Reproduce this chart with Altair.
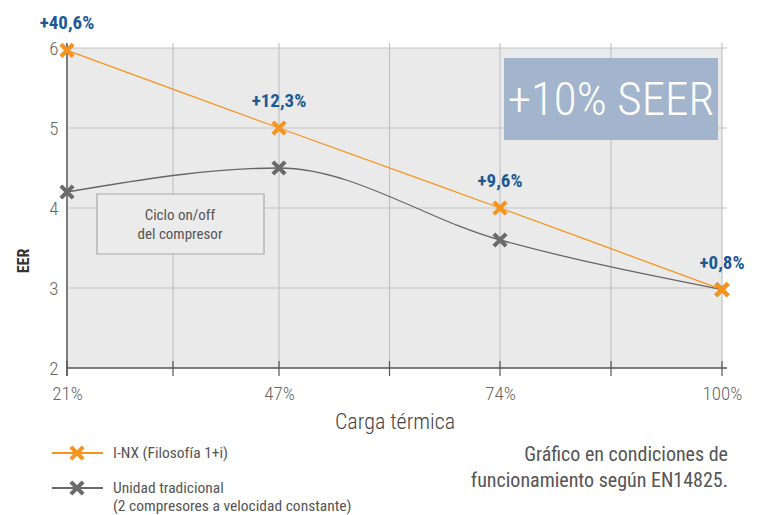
import json
import altair as alt
import pandas as pd

# ---------------- data ----------------
loads = ["21%", "47%", "74%", "100%"]
inx_eer = [5.97, 5.0, 4.0, 2.98]
trad_eer = [4.2, 4.5, 3.6, 2.98]
gain_labels = ["+40,6%", "+12,3%", "+9,6%", "+0,8%"]
series_names = ["I-NX (Filosofía 1+i)", "Unidad tradicional"]
legend_second_line = "(2 compresores a velocidad constante)"
y_ticks = [2, 3, 4, 5, 6]
x_title = "Carga térmica"
y_title = "EER"
seer_text = "+10% SEER"
cycle_text = ["Ciclo on/off", "del compresor"]
note_text = ["Gráfico en condiciones de", "funcionamiento según EN14825."]

ORANGE = "#f7941d"
GRAY = "#6b6b6b"
BLUE = "#1c5a96"
FONT = "'Roboto Condensed', 'DejaVu Sans Condensed', sans-serif"
XPATH = "M-1,-1L1,1M-1,1L1,-1"

W, H = 655, 320

inx = pd.DataFrame({"pos": list(range(len(loads))), "load": loads,
                    "eer": inx_eer, "gain": gain_labels})
trad = pd.DataFrame({"pos": list(range(len(loads))), "load": loads,
                     "eer": trad_eer})
vgrid = pd.DataFrame({"pos": [i * 0.5 for i in range(2 * len(loads) - 1)]})
hgrid = pd.DataFrame({"eer": y_ticks[1:]})
one = pd.DataFrame({"a": [0]})

label_expr = "%s[datum.value]" % json.dumps(loads)
# slightly uneven spacing of the load categories, as in the original figure
xscale = alt.Scale(domain=[0, 1, 2, 3], range=[0, 212, 433, W], nice=False, zero=False)
yscale = alt.Scale(domain=[min(y_ticks), max(y_ticks)], nice=False, zero=False)

x_axis = alt.Axis(values=list(range(len(loads))), labelExpr=label_expr,
                  grid=False, domain=False, ticks=False, title=None,
                  labelFont=FONT, labelFontSize=19, labelFontWeight=300,
                  labelColor="#666666", labelPadding=16, labelFlush=False)
y_axis = alt.Axis(values=y_ticks, grid=False, domain=False, ticks=False,
                  title=None, labelFont=FONT, labelFontSize=19,
                  labelFontWeight=300, labelColor="#666666", labelPadding=9)

X = alt.X("pos:Q", scale=xscale, axis=x_axis)
Y = alt.Y("eer:Q", scale=yscale, axis=y_axis)

vlines = alt.Chart(vgrid).mark_rule(color="#c3c3c3", strokeWidth=1.2).encode(
    x=alt.X("pos:Q", scale=xscale, axis=x_axis), y=alt.value(-5), y2=alt.value(H))
hlines = alt.Chart(hgrid).mark_rule(color="#c3c3c3", strokeWidth=1.2).encode(
    y=alt.Y("eer:Q", scale=yscale, axis=y_axis), x=alt.value(0), x2=alt.value(W + 5))
ticks = alt.Chart(vgrid).mark_rule(color="#555555", strokeWidth=1.2).encode(
    x=alt.X("pos:Q", scale=xscale, axis=x_axis), y=alt.value(H - 7), y2=alt.value(H + 8))
x_domain = alt.Chart(one).mark_rule(color="#555555", strokeWidth=1.4).encode(
    x=alt.value(0), x2=alt.value(W + 5), y=alt.value(H))
y_domain = alt.Chart(one).mark_rule(color="#555555", strokeWidth=1.4).encode(
    x=alt.value(0), y=alt.value(-5), y2=alt.value(H + 8))

# annotation boxes
seer_box = alt.Chart(one).mark_rect(color="#a3b5cc").encode(
    x=alt.value(437), x2=alt.value(651), y=alt.value(10), y2=alt.value(92))
seer_lbl = alt.Chart(one).mark_text(font=FONT, fontSize=47, fontWeight=300,
                                    color="white", align="center",
                                    baseline="middle").encode(
    x=alt.value(544), y=alt.value(53), text=alt.value(seer_text))
cyc_box = alt.Chart(one).mark_rect(fill="#ebebeb", stroke="#a9a9a9", strokeWidth=1.2).encode(
    x=alt.value(30), x2=alt.value(197), y=alt.value(146), y2=alt.value(206))
cyc_l1 = alt.Chart(one).mark_text(font=FONT, fontSize=15, color="#555555",
                                  align="center", baseline="middle").encode(
    x=alt.value(113), y=alt.value(167), text=alt.value(cycle_text[0]))
cyc_l2 = alt.Chart(one).mark_text(font=FONT, fontSize=15, color="#555555",
                                  align="center", baseline="middle").encode(
    x=alt.value(113), y=alt.value(186), text=alt.value(cycle_text[1]))

# data series
trad_line = alt.Chart(trad).mark_line(color="#666666", strokeWidth=1.3,
                                      interpolate="monotone").encode(x=X, y=Y)
inx_line = alt.Chart(inx).mark_line(color=ORANGE, strokeWidth=1.3,
                                    interpolate="catmull-rom").encode(x=X, y=Y)
trad_pts = alt.Chart(trad).mark_point(shape=XPATH, size=150, strokeWidth=4.2,
                                      color=GRAY, filled=False, opacity=1).encode(x=X, y=Y)
inx_pts = alt.Chart(inx).mark_point(shape=XPATH, size=150, strokeWidth=4.2,
                                    color=ORANGE, filled=False, opacity=1).encode(x=X, y=Y)
gains = alt.Chart(inx).mark_text(font=FONT, fontSize=19, fontWeight="bold",
                                 color=BLUE, dy=-27, baseline="middle").encode(
    x=X, y=Y, text="gain:N")

# titles
ytitle = alt.Chart(one).mark_text(font=FONT, fontSize=16, fontWeight="bold",
                                  color="#333333", angle=270, align="center",
                                  baseline="middle").encode(
    x=alt.value(-43), y=alt.value(213), text=alt.value(y_title))
xtitle = alt.Chart(one).mark_text(font=FONT, fontSize=22, fontWeight=300,
                                  color="#444444", align="center",
                                  baseline="middle").encode(
    x=alt.value(328), y=alt.value(374), text=alt.value(x_title))

# legend (manual)
def legend_item(color, ly, name):
    line = alt.Chart(one).mark_rule(color=color, strokeWidth=2.2).encode(
        x=alt.value(-15), x2=alt.value(36), y=alt.value(ly))
    mk = alt.Chart(one).mark_point(shape=XPATH, size=150, strokeWidth=4.2,
                                   color=color, filled=False, opacity=1).encode(
        x=alt.value(10), y=alt.value(ly))
    tx = alt.Chart(one).mark_text(font=FONT, fontSize=15.5, color="#555555",
                                  align="left", baseline="middle").encode(
        x=alt.value(46), y=alt.value(ly), text=alt.value(name))
    return [line, mk, tx]

leg = legend_item(ORANGE, 405, series_names[0]) + legend_item(GRAY, 440, series_names[1])
leg2 = alt.Chart(one).mark_text(font=FONT, fontSize=15.5, color="#555555",
                                align="left", baseline="middle").encode(
    x=alt.value(46), y=alt.value(458), text=alt.value(legend_second_line))

note1 = alt.Chart(one).mark_text(font=FONT, fontSize=20, color="#555555",
                                 align="right", baseline="middle").encode(
    x=alt.value(661), y=alt.value(407), text=alt.value(note_text[0]))
note2 = alt.Chart(one).mark_text(font=FONT, fontSize=20, color="#555555",
                                 align="right", baseline="middle").encode(
    x=alt.value(661), y=alt.value(433), text=alt.value(note_text[1]))

chart = alt.layer(
    vlines, hlines, ticks, x_domain, y_domain,
    seer_box, seer_lbl, cyc_box, cyc_l1, cyc_l2,
    trad_line, inx_line, trad_pts, inx_pts, gains,
    ytitle, xtitle, *leg, leg2, note1, note2,
).properties(
    width=W, height=H,
    autosize=alt.AutoSizeParams(type="none"),
    padding={"left": 59, "top": 40, "right": 31, "bottom": 146},
).configure_view(fill="#eaeaea", stroke=None)

chart.save("out.html", embed_options={"renderer": "svg", "actions": False})
